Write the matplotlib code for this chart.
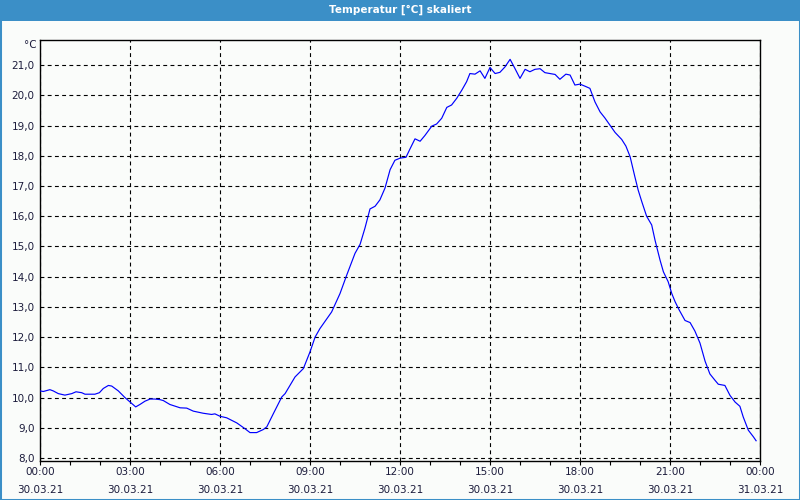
import matplotlib
matplotlib.use("Agg")
import matplotlib.pyplot as plt
from matplotlib.patches import Rectangle
from matplotlib.ticker import FixedLocator, MultipleLocator, FuncFormatter

# hours since 30.03.21 00:00 and temperature in degC
hours = [0.0, 0.11, 0.33, 0.44, 0.61, 0.83, 1.06, 1.2, 1.39, 1.5, 1.83, 1.98,
         2.11, 2.28, 2.39, 2.61, 2.83, 3.06, 3.19, 3.33, 3.5, 3.67, 3.83, 4.0,
         4.11, 4.33, 4.67, 4.89, 5.11, 5.44, 5.72, 5.83, 6.0, 6.22, 6.56, 6.83,
         7.0, 7.22, 7.44, 7.56, 7.78, 8.06, 8.17, 8.5, 8.78, 9.0, 9.17, 9.33,
         9.72, 10.0, 10.22, 10.5, 10.67, 10.83, 11.0, 11.17, 11.33, 11.5, 11.67,
         11.83, 12.0, 12.2, 12.33, 12.5, 12.67, 12.83, 13.06, 13.22, 13.39,
         13.56, 13.72, 13.89, 14.06, 14.22, 14.33, 14.5, 14.67, 14.83, 15.0,
         15.17, 15.33, 15.5, 15.67, 15.83, 16.0, 16.17, 16.33, 16.5, 16.67,
         16.83, 17.0, 17.17, 17.33, 17.53, 17.67, 17.83, 18.0, 18.17, 18.33,
         18.5, 18.67, 18.83, 19.0, 19.17, 19.39, 19.53, 19.67, 19.83, 19.94,
         20.06, 20.22, 20.39, 20.5, 20.67, 20.78, 20.94, 21.06, 21.17, 21.31,
         21.5, 21.67, 21.83, 22.0, 22.17, 22.33, 22.5, 22.61, 22.83, 23.0,
         23.17, 23.33, 23.44, 23.61, 23.78, 23.87]
temps = [10.22, 10.20, 10.26, 10.22, 10.13, 10.08, 10.13, 10.19, 10.16, 10.11,
         10.11, 10.16, 10.30, 10.40, 10.38, 10.22, 10.00, 9.80, 9.69, 9.77,
         9.88, 9.95, 9.95, 9.93, 9.90, 9.77, 9.66, 9.65, 9.55, 9.48, 9.44, 9.46,
         9.38, 9.33, 9.16, 8.97, 8.84, 8.84, 8.94, 9.03, 9.47, 10.02, 10.13,
         10.68, 10.96, 11.51, 12.00, 12.28, 12.83, 13.44, 14.04, 14.77, 15.07,
         15.60, 16.24, 16.33, 16.54, 16.93, 17.54, 17.85, 17.92, 17.95, 18.22,
         18.56, 18.48, 18.67, 18.98, 19.05, 19.24, 19.60, 19.68, 19.90, 20.17,
         20.45, 20.72, 20.70, 20.81, 20.56, 20.92, 20.72, 20.76, 20.94, 21.19,
         20.89, 20.56, 20.86, 20.78, 20.86, 20.88, 20.75, 20.72, 20.69, 20.53,
         20.70, 20.67, 20.34, 20.37, 20.30, 20.23, 19.78, 19.45, 19.25, 19.01,
         18.77, 18.54, 18.32, 17.97, 17.30, 16.86, 16.48, 16.00, 15.71, 15.21,
         14.54, 14.16, 13.83, 13.44, 13.17, 12.89, 12.55, 12.48, 12.20, 11.80,
         11.20, 10.78, 10.57, 10.44, 10.40, 10.07, 9.85, 9.71, 9.36, 8.92, 8.70,
         8.57]

tick_hours = [0, 3, 6, 9, 12, 15, 18, 21, 24]
tick_labels = ["00:00\n30.03.21", "03:00\n30.03.21", "06:00\n30.03.21",
               "09:00\n30.03.21", "12:00\n30.03.21", "15:00\n30.03.21",
               "18:00\n30.03.21", "21:00\n30.03.21", "00:00\n31.03.21"]

title = "Temperatur [°C] skaliert"
frame_blue = "#3b8fc7"
bg = "#fafcfa"
text_col = "#1c1c3c"

fig = plt.figure(figsize=(8, 5), dpi=100, facecolor=bg)

# title bar and blue frame
fig.patches.append(Rectangle((0, 1 - 21 / 500), 1, 21 / 500, transform=fig.transFigure,
                             facecolor=frame_blue, edgecolor="none", zorder=0))
fig.patches.append(Rectangle((0, 0), 1, 1, transform=fig.transFigure,
                             fill=False, edgecolor=frame_blue, linewidth=2.2, zorder=5))
fig.text(0.5, 1 - 10 / 500, title, ha="center", va="center", color="white",
         fontsize=7.5, fontweight="bold")

ax = fig.add_axes([40 / 800, 1 - 461 / 500, 720 / 800, 421 / 500])
ax.set_facecolor(bg)
ax.plot(hours, temps, color="#0000ff", linewidth=0.85, zorder=3)

ax.set_xlim(0, 24)
ax.set_ylim(7.9, 21.83)

ax.xaxis.set_major_locator(FixedLocator(tick_hours))
ax.set_xticklabels(tick_labels, fontsize=7.5, color=text_col, linespacing=2.1)
ax.xaxis.set_minor_locator(MultipleLocator(1))
ax.tick_params(axis="x", which="both", direction="out", length=3, width=0.8,
               pad=1, color="black")

ax.yaxis.set_major_locator(MultipleLocator(1))
ax.yaxis.set_major_formatter(FuncFormatter(lambda v, p: f"{v:.1f}".replace(".", ",")))
ax.tick_params(axis="y", length=0, pad=4, labelsize=7.5, labelcolor=text_col)

ax.grid(True, which="major", color="black", linestyle=(0, (3.5, 3)), linewidth=0.8)
for s in ax.spines.values():
    s.set_linewidth(1.0)
    s.set_color("black")

fig.text(37 / 800, 1 - 45 / 500, "°C", ha="right", va="center",
         fontsize=7.5, color=text_col)

fig.savefig("out.png", dpi=100, facecolor=bg)
